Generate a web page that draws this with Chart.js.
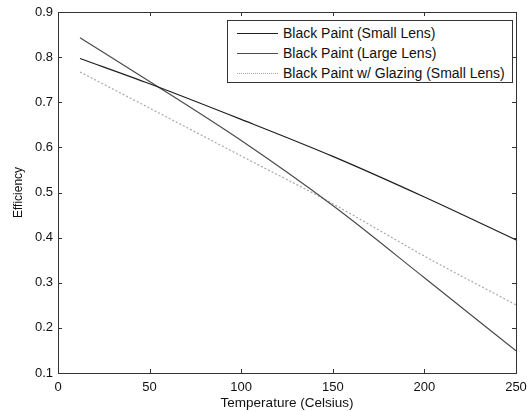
<!DOCTYPE html>
<html>
<head>
<meta charset="utf-8">
<script src="https://cdn.jsdelivr.net/npm/chart.js@4/dist/chart.umd.min.js"></script>
<style>
  body { margin: 0; background: #fff; }
  #wrap { position: relative; width: 527px; height: 411px; }
  #legend {
    position: absolute; left: 227px; top: 20px; width: 286px; height: 63px;
    border: 1px solid #333; background: #fff; box-sizing: border-box;
    font-family: "Liberation Sans", Arial, sans-serif; font-size: 14px; color: #111;
  }
  #legend .row { position: absolute; left: 0; height: 20px; line-height: 20px; white-space: nowrap; }
  #legend .swatch { position: absolute; left: 9px; top: 10px; width: 41px; height: 0; }
  #legend .txt { position: absolute; left: 55px; top: 0; }
</style>
</head>
<body>
<div id="wrap">
  <canvas id="chart" width="527" height="411"></canvas>
  <div id="legend"></div>
</div>
<script>
// Temperature (Celsius)
const temps = [12, 50, 100, 150, 200, 250];

// Efficiency values
const smallLens = [0.797, 0.741, 0.662, 0.580, 0.490, 0.395];
const largeLens = [0.843, 0.746, 0.615, 0.471, 0.311, 0.149];
const glazingSmallLens = [0.767, 0.687, 0.581, 0.475, 0.359, 0.251];

const seriesNames = [
  "Black Paint (Small Lens)",
  "Black Paint (Large Lens)",
  "Black Paint w/ Glazing (Small Lens)"
];

const xTicks = [0, 50, 100, 150, 200, 250];
const yTicks = [0.1, 0.2, 0.3, 0.4, 0.5, 0.6, 0.7, 0.8, 0.9];

const colors = ["#1e1e1e", "#4a4a4a", "#a8a8a8"];
const dashes = [[], [], [2, 2]];

const toPoints = vals => temps.map((t, i) => ({ x: t, y: vals[i] }));
const seriesData = [smallLens, largeLens, glazingSmallLens];

const font = { family: "'Liberation Sans', Arial, sans-serif", size: 13 };

// box around the plot with inward ticks on all four sides
const boxPlugin = {
  id: "box",
  afterDraw(chart) {
    const { ctx, chartArea: a, scales } = chart;
    ctx.save();
    ctx.strokeStyle = "#333";
    ctx.lineWidth = 1;
    ctx.strokeRect(Math.round(a.left) + 0.5, Math.round(a.top) + 0.5,
      Math.round(a.right - a.left), Math.round(a.bottom - a.top));
    ctx.beginPath();
    xTicks.forEach(v => {
      const px = Math.round(scales.x.getPixelForValue(v)) + 0.5;
      ctx.moveTo(px, a.bottom); ctx.lineTo(px, a.bottom - 4);
      ctx.moveTo(px, a.top); ctx.lineTo(px, a.top + 4);
    });
    yTicks.forEach(v => {
      const py = Math.round(scales.y.getPixelForValue(v)) + 0.5;
      ctx.moveTo(a.left, py); ctx.lineTo(a.left + 4, py);
      ctx.moveTo(a.right, py); ctx.lineTo(a.right - 4, py);
    });
    ctx.stroke();
    ctx.restore();
  }
};

new Chart(document.getElementById("chart"), {
  type: "line",
  data: {
    datasets: seriesData.map((vals, i) => ({
      label: seriesNames[i],
      data: toPoints(vals),
      borderColor: colors[i],
      borderWidth: 1.2,
      borderDash: dashes[i],
      pointRadius: 0,
      cubicInterpolationMode: "monotone"
    }))
  },
  options: {
    responsive: false,
    animation: false,
    layout: { padding: { top: 12, right: 11, left: 0, bottom: 0 } },
    plugins: { legend: { display: false }, tooltip: { enabled: false } },
    scales: {
      x: {
        type: "linear", min: 0, max: 250,
        afterBuildTicks: s => { s.ticks = xTicks.map(v => ({ value: v })); },
        afterFit: s => { s.height = 38; s.paddingLeft = 0; s.paddingRight = 0; },
        grid: { display: false, drawTicks: false },
        border: { display: false },
        ticks: { color: "#111", font, padding: 7, maxRotation: 0 },
        title: { display: true, text: "Temperature (Celsius)", color: "#111", font: { ...font, size: 13.5 }, padding: { top: 0, bottom: 0 } }
      },
      y: {
        type: "linear", min: 0.1, max: 0.9,
        afterBuildTicks: s => { s.ticks = yTicks.map(v => ({ value: v })); },
        afterFit: s => { s.width = 58; s.paddingTop = 0; s.paddingBottom = 0; },
        grid: { display: false, drawTicks: false },
        border: { display: false },
        ticks: { color: "#111", font, padding: 5, callback: v => v.toFixed(1) },
        title: { display: true, text: "Efficiency", color: "#111", font: { ...font, size: 12 }, padding: { top: 11, bottom: 0 } }
      }
    }
  },
  plugins: [boxPlugin]
});

// legend inside the plot, built from the series
const legend = document.getElementById("legend");
seriesNames.forEach((name, i) => {
  const row = document.createElement("div");
  row.className = "row";
  row.style.top = (2 + i * 20) + "px";
  row.innerHTML = `<span class="swatch" style="border-top:1px ${i === 2 ? "dotted" : "solid"} ${colors[i]}"></span><span class="txt">${name}</span>`;
  legend.appendChild(row);
});
</script>
</body>
</html>
